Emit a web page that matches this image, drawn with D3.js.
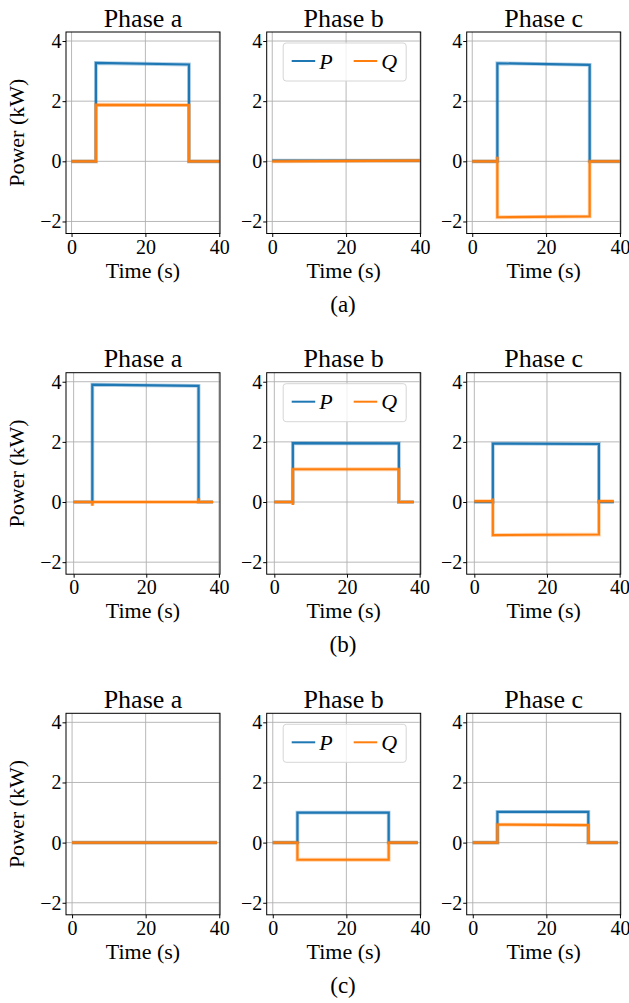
<!DOCTYPE html>
<html lang="en">
<head>
<meta charset="UTF-8">
<title>Phase power P / Q</title>
<script src="https://d3js.org/d3.v7.min.js"></script>
<style>
  body { margin: 0; background: #fff; }
  text { font-family: "Liberation Serif", "Times New Roman", serif; fill: #000; }
  .grid line { stroke: #b0b0b0; stroke-width: 0.9; }
  .tick line { stroke: #000; }
</style>
</head>
<body>
<svg width="629" height="1003"></svg>
<script>
// titles, captions, ticks
const phases = ["Phase a", "Phase b", "Phase c"];
const captions = ["(a)", "(b)", "(c)"];
const xTicks = [0, 20, 40];
const yTicks = [-2, 0, 2, 4];
const xDomains = [[-1.5, 40.2], [-2.1, 40.3], [-1.65, 40.2]];
const yDomain = [-2.4, 4.3];

// case (a): [time s, kW] per phase
const caseA_P = [
  [[0, 0], [6.6, 0], [6.6, 3.27], [31.8, 3.22], [31.8, 0], [40, 0]],
  [[0, 0.02], [40, 0.02]],
  [[0, 0], [6.8, 0], [6.8, 3.26], [31.8, 3.21], [31.8, 0], [40, 0]]
];
const caseA_Q = [
  [[0, 0], [6.6, 0], [6.6, 1.88], [31.8, 1.87], [31.8, 0], [40, 0]],
  [[0, 0], [40, 0.02]],
  [[0, 0], [6.8, 0], [6.8, 0.15], [6.8, -1.86], [31.8, -1.83], [31.8, 0], [40, 0]]
];

// case (b)
const caseB_P = [
  [[0, 0], [5.15, 0], [5.15, 3.9], [34.4, 3.86], [34.4, 0], [38.4, 0]],
  [[0, 0], [5.1, 0], [5.1, 1.96], [34.3, 1.95], [34.3, 0], [38.4, 0]],
  [[0, 0], [5.1, 0], [5.1, 1.94], [34.3, 1.93], [34.3, 0], [38.4, 0]]
];
const caseB_Q = [
  [[0, 0], [5.15, 0], [5.15, -0.12], [5.2, 0], [34.4, 0], [34.4, 0.12], [34.45, 0], [38.4, 0]],
  [[0, 0], [5.1, 0], [5.1, -0.1], [5.1, 1.09], [34.3, 1.09], [34.3, 0], [38.4, 0]],
  [[0, 0.03], [5.1, 0.03], [5.1, 0.12], [5.1, -1.1], [34.3, -1.08], [34.3, 0.03], [38.4, 0.03]]
];

// case (c)
const caseC_P = [
  [[0, 0], [39.4, 0]],
  [[0, 0], [6.7, 0], [6.7, 1.0], [31.5, 1.0], [31.5, 0], [39.4, 0]],
  [[0, 0], [6.7, 0], [6.7, 1.02], [31.4, 1.02], [31.4, 0], [39.4, 0]]
];
const caseC_Q = [
  [[0, 0], [39.4, 0]],
  [[0, 0], [6.7, 0], [6.7, -0.57], [31.5, -0.57], [31.5, 0], [39.4, 0]],
  [[0, 0], [6.7, 0], [6.7, 0.6], [31.4, 0.58], [31.4, 0], [39.4, 0]]
];

const rowsP = [caseA_P, caseB_P, caseC_P];
const rowsQ = [caseA_Q, caseB_Q, caseC_Q];

const colorP = "#1f77b4";
const colorQ = "#ff7f0e";

// layout
const colX = [66, 266.7, 466.7];
const rowY = [32, 372.7, 713.3];
const pw = 154, ph = 201.5;

const svg = d3.select("svg");
const fmt = d3.format("d");

rowsP.forEach((rowP, r) => {
  const x = d3.scaleLinear().domain(xDomains[r]).range([0, pw]);
  const y = d3.scaleLinear().domain(yDomain).range([ph, 0]);
  const line = d3.line().x(d => x(d[0])).y(d => y(d[1]));

  rowP.forEach((pData, c) => {
    const g = svg.append("g")
      .attr("transform", `translate(${colX[c]},${rowY[r]})`);

    // grid
    g.append("g").attr("class", "grid")
      .selectAll("line").data(xTicks).join("line")
      .attr("x1", d => x(d)).attr("x2", d => x(d))
      .attr("y1", 0).attr("y2", ph);
    g.append("g").attr("class", "grid")
      .selectAll("line").data(yTicks).join("line")
      .attr("x1", 0).attr("x2", pw)
      .attr("y1", d => y(d)).attr("y2", d => y(d));

    // axes
    const ax = g.append("g")
      .attr("transform", `translate(0,${ph})`)
      .call(d3.axisBottom(x).tickValues(xTicks).tickFormat(fmt).tickSize(3.5).tickPadding(2.5));
    const ay = g.append("g")
      .call(d3.axisLeft(y).tickValues(yTicks).tickFormat(fmt).tickSize(3.5).tickPadding(1));
    [ax, ay].forEach(a => {
      a.attr("font-family", null).attr("font-size", null);
      a.select(".domain").remove();
      a.selectAll("text").style("font-size", "20px");
    });

    // clipped data lines
    const clipId = `clip-${r}-${c}`;
    g.append("clipPath").attr("id", clipId)
      .append("rect").attr("width", pw).attr("height", ph);
    const lines = g.append("g").attr("clip-path", `url(#${clipId})`);
    [[pData, colorP], [rowsQ[r][c], colorQ]].forEach(([data, col]) => {
      lines.append("path").datum(data)
        .attr("fill", "none").attr("stroke", col)
        .attr("stroke-opacity", 0.35).attr("stroke-width", 3.8)
        .attr("d", line);
      lines.append("path").datum(data)
        .attr("fill", "none").attr("stroke", col)
        .attr("stroke-width", 2.2)
        .attr("d", line);
    });

    // frame
    g.append("rect").attr("width", pw).attr("height", ph)
      .attr("fill", "none").attr("stroke", "#000").attr("stroke-width", 1);

    // title
    g.append("text")
      .attr("x", pw / 2).attr("y", -5.5)
      .attr("text-anchor", "middle")
      .style("font-size", "26px")
      .text(phases[c]);

    // x label
    g.append("text")
      .attr("x", pw / 2).attr("y", ph + 44)
      .attr("text-anchor", "middle")
      .style("font-size", "22px")
      .text("Time (s)");

    // y label on first column
    if (c === 0) {
      g.append("text")
        .attr("transform", `translate(${24 - colX[0]},${ph / 2}) rotate(-90)`)
        .attr("text-anchor", "middle")
        .style("font-size", "22px")
        .text("Power (kW)");
    }

    // legend in phase b
    if (c === 1) {
      const lg = g.append("g").attr("transform", "translate(16.5,11)");
      lg.append("rect")
        .attr("width", 123).attr("height", 38).attr("rx", 3)
        .attr("fill", "#fff").attr("fill-opacity", 0.8)
        .attr("stroke", "#d6d6d6").attr("stroke-width", 1);
      [["P", colorP, 8.5], ["Q", colorQ, 70.5]].forEach(([lab, col, lx]) => {
        lg.append("line")
          .attr("x1", lx).attr("x2", lx + 23.5)
          .attr("y1", 18).attr("y2", 18)
          .attr("stroke", col).attr("stroke-width", 2);
        lg.append("text")
          .attr("x", lx + 27.5).attr("y", 25.5)
          .style("font-size", "22px").style("font-style", "italic")
          .text(lab);
      });
    }
  });

  // row caption
  svg.append("text")
    .attr("x", 343).attr("y", rowY[r] + ph + 78)
    .attr("text-anchor", "middle")
    .style("font-size", "23px")
    .text(captions[r]);
});
</script>
</body>
</html>
